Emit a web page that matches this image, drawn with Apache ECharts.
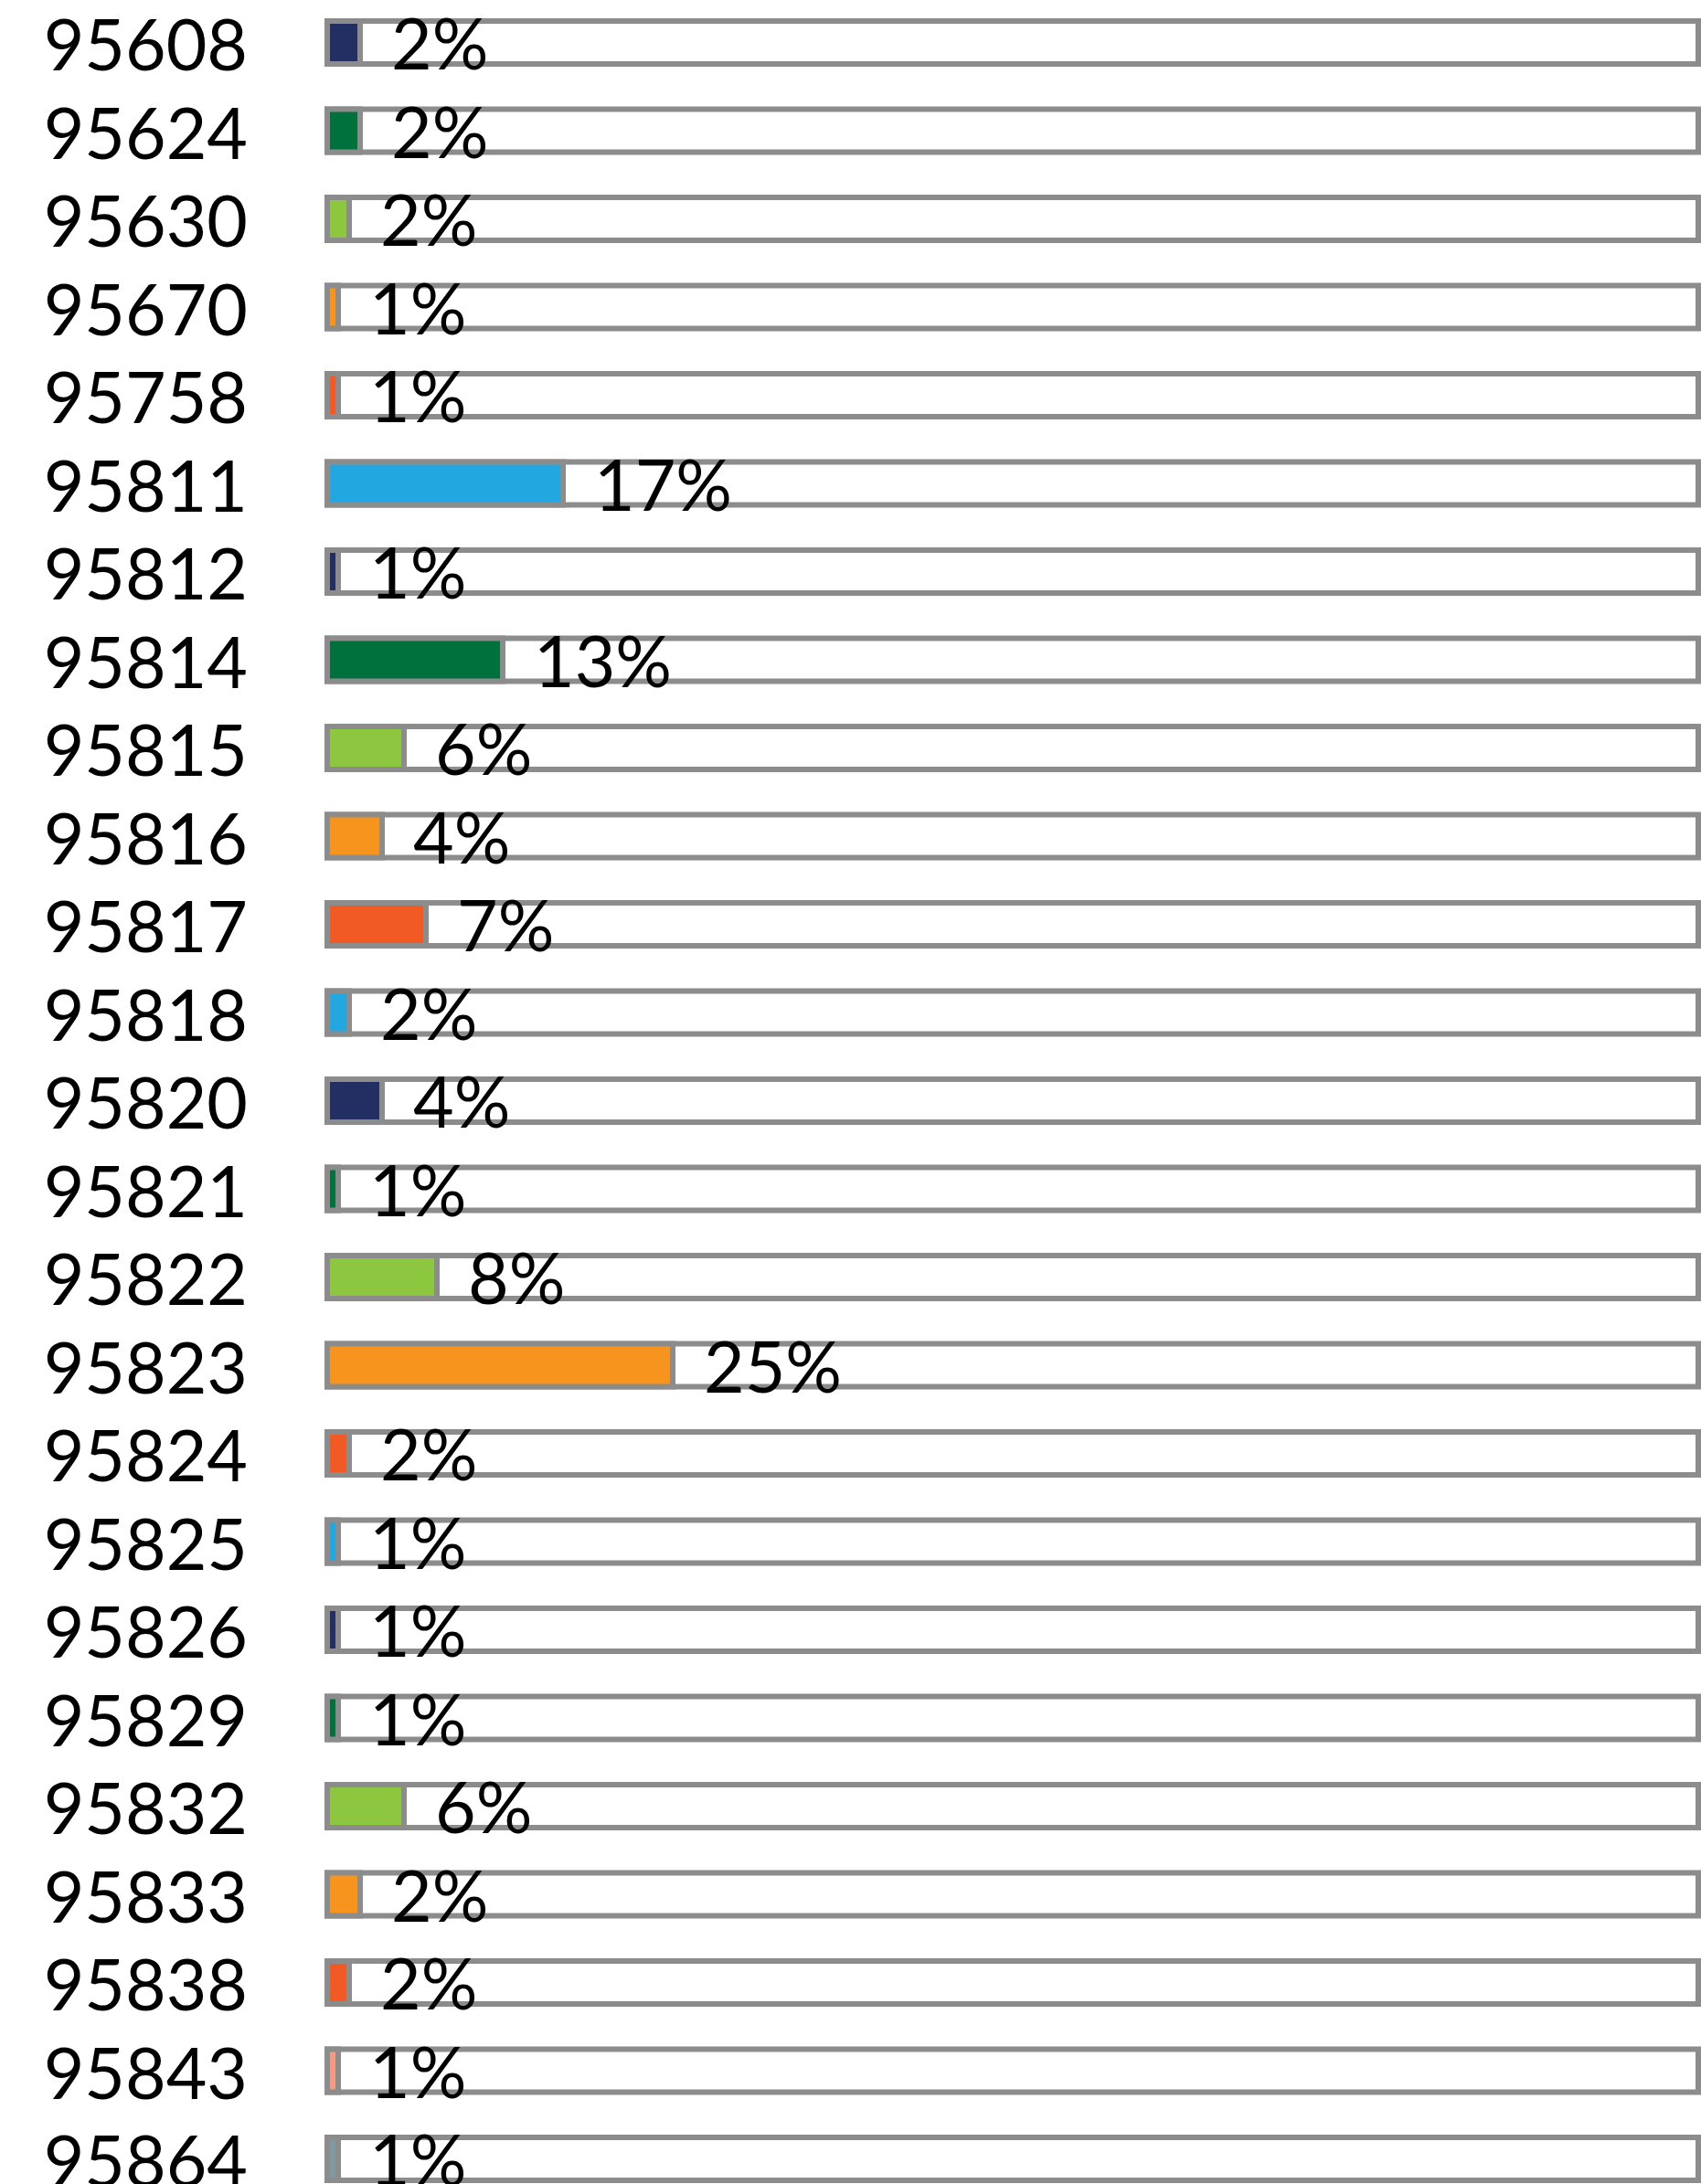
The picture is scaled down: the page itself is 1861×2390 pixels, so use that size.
<!DOCTYPE html>
<html>
<head>
<meta charset="utf-8">
<script src="https://cdn.jsdelivr.net/npm/echarts@6/dist/echarts.min.js"></script>
<style>
html,body{margin:0;padding:0;background:#fff;}
#chart{width:1861px;height:2390px;}
</style>
</head>
<body>
<div id="chart"></div>
<script>
var categories = ['95608','95624','95630','95670','95758','95811','95812','95814','95815','95816','95817','95818','95820','95821','95822','95823','95824','95825','95826','95829','95832','95833','95838','95843','95864'];
var values = [2.4,2.4,1.6,0.8,0.8,17.2,0.8,12.8,5.6,4.0,7.2,1.6,4.0,0.8,8.0,25.2,1.6,0.8,0.8,0.8,5.6,2.4,1.6,0.8,0.8];
var barColors = ['#232f63','#00703c','#8dc63f','#f7941d','#f15a24','#22a7e1','#232f63','#00703c','#8dc63f','#f7941d','#f15a24','#22a7e1','#232f63','#00703c','#8dc63f','#f7941d','#f15a24','#22a7e1','#232f63','#00703c','#8dc63f','#f7941d','#f15a24','#f69a85','#7f9ba0'];
var axisMax = 100;

var BORDER = '#8c8c8c';
var BAR_H = 47;

function renderRow(params, api) {
  var idx = params.dataIndex;
  var cat = api.value(0);
  var v = api.value(1);
  var p0 = api.coord([0, cat]);
  var p1 = api.coord([v, cat]);
  var pm = api.coord([axisMax, cat]);
  var y = p0[1] - BAR_H / 2;
  return {
    type: 'group',
    children: [
      {type: 'rect', shape: {x: p0[0], y: y, width: pm[0] - p0[0], height: BAR_H},
        style: {fill: '#ffffff', stroke: BORDER, lineWidth: 6}},
      {type: 'rect', shape: {x: p0[0], y: y, width: p1[0] - p0[0], height: BAR_H},
        style: {fill: barColors[idx], stroke: BORDER, lineWidth: 6}},
      {type: 'text', x: p1[0] + 34, y: p0[1] + 5,
        style: {text: Math.round(v) + '%', font: '77px Lato', fill: '#000', align: 'left', verticalAlign: 'middle'}}
    ]
  };
}

var chart = echarts.init(document.getElementById('chart'), null, {renderer:'canvas'});
chart.setOption({
  animation: false,
  backgroundColor: '#ffffff',
  grid: {left: 358, right: 3, top: -1.75, height: 2412.5, containLabel: false, outerBoundsMode: 'none'},
  xAxis: {type: 'value', min: 0, max: axisMax, show: false},
  yAxis: {
    type: 'category', data: categories, inverse: true,
    axisLine: {show: false}, axisTick: {show: false}, splitLine: {show: false},
    axisLabel: {
      interval: 0, margin: 87, align: 'right',
      formatter: function (v) { return '{c|' + v + '}'; },
      rich: {c: {fontFamily: 'Lato', fontSize: 77, color: '#000', lineHeight: 89, verticalAlign: 'bottom'}}
    }
  },
  series: [{
    type: 'custom',
    coordinateSystem: 'cartesian2d',
    encode: {x: 1, y: 0},
    data: values.map(function (v, i) { return [i, v]; }),
    clip: false,
    renderItem: renderRow
  }]
});
</script>
</body>
</html>
